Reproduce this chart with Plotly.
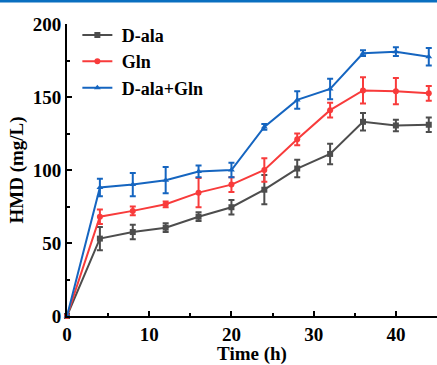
import plotly.graph_objects as go

time_h = [0, 4, 8, 12, 16, 20, 24, 28, 32, 36, 40, 44]

dala = [0, 53, 57.5, 60.5, 68, 74.5, 86.5, 101, 111, 133, 130.5, 131]
dala_err = [0, 8, 5, 3, 3, 5, 10, 6, 7, 6, 4, 5]

gln = [0, 68, 72, 76.5, 84.5, 90, 100, 121, 141, 154.5, 154, 152.5]
gln_err = [0, 5, 3, 2, 10, 5, 8, 4, 5, 9, 9, 5]

mix = [0, 88, 90, 93, 99, 100, 129.5, 148, 155.5, 180, 181, 177.5]
mix_err = [0, 6, 8, 9, 4, 5, 2, 6, 7, 2, 3, 6]

names = ["D-ala", "Gln", "D-ala+Gln"]
colors = ["#4d4d4d", "#f83b3b", "#1565c0"]
symbols = ["square", "circle", "triangle-up"]

x_ticks = [0, 10, 20, 30, 40]
y_ticks = [0, 50, 100, 150, 200]

FAM = "Liberation Serif, Times New Roman, serif"
FS = 19

fig = go.Figure()
for name, ys, es, c, s in zip(names, [dala, gln, mix], [dala_err, gln_err, mix_err], colors, symbols):
    fig.add_trace(go.Scatter(
        x=time_h, y=ys, name="\u00a0<b>" + name + "</b>", mode="lines+markers",
        line=dict(color=c, width=2),
        marker=dict(color=c, symbol=s, size=6),
        error_y=dict(type="data", array=es, visible=True, color=c, thickness=2, width=3),
        cliponaxis=False,
    ))

fig.update_layout(
    width=437, height=365,
    margin=dict(l=67, r=0, t=24, b=49),
    paper_bgcolor="white", plot_bgcolor="white",
    font=dict(family=FAM, size=FS, color="black"),
    showlegend=True,
    legend=dict(x=0.028, y=1.025, xanchor="left", yanchor="top",
                bgcolor="rgba(0,0,0,0)", font=dict(family=FAM, size=18, color="black"),
                tracegroupgap=0, itemwidth=30),
    xaxis=dict(range=[0, 45], tickvals=x_ticks, ticktext=["<b>%d</b>" % v for v in x_ticks],
               showline=True, linecolor="black", linewidth=2, automargin=False,
               ticks="inside", ticklen=5, tickwidth=2, tickcolor="black", showgrid=False, zeroline=False,
               minor=dict(tickvals=[5, 15, 25, 35], ticks="inside", ticklen=3, tickwidth=2, tickcolor="black"),
               tickfont=dict(family=FAM, size=FS, color="black"),
               title=dict(text="<b>Time (h)</b>", standoff=10, font=dict(family=FAM, size=FS)),
               ),
    yaxis=dict(range=[0, 200], tickvals=y_ticks, ticktext=["<b>%d</b>" % v for v in y_ticks],
               showline=True, linecolor="black", linewidth=2, automargin=False,
               ticks="inside", ticklen=5, tickwidth=2, tickcolor="black", showgrid=False, zeroline=False,
               minor=dict(tickvals=[25, 75, 125, 175], ticks="inside", ticklen=3, tickwidth=2, tickcolor="black"),
               tickfont=dict(family=FAM, size=FS, color="black"),
               title=dict(text="<b>HMD (mg/L)</b>", standoff=4, font=dict(family=FAM, size=FS)),
               ),
)

fig.add_shape(type="rect", xref="paper", yref="paper", x0=-0.2, x1=1.05,
              y0=1 + 21.5 / 292, y1=1 + 24 / 292, fillcolor="#0a6fc0", line=dict(width=0), layer="above")

fig.write_html("out.html")
